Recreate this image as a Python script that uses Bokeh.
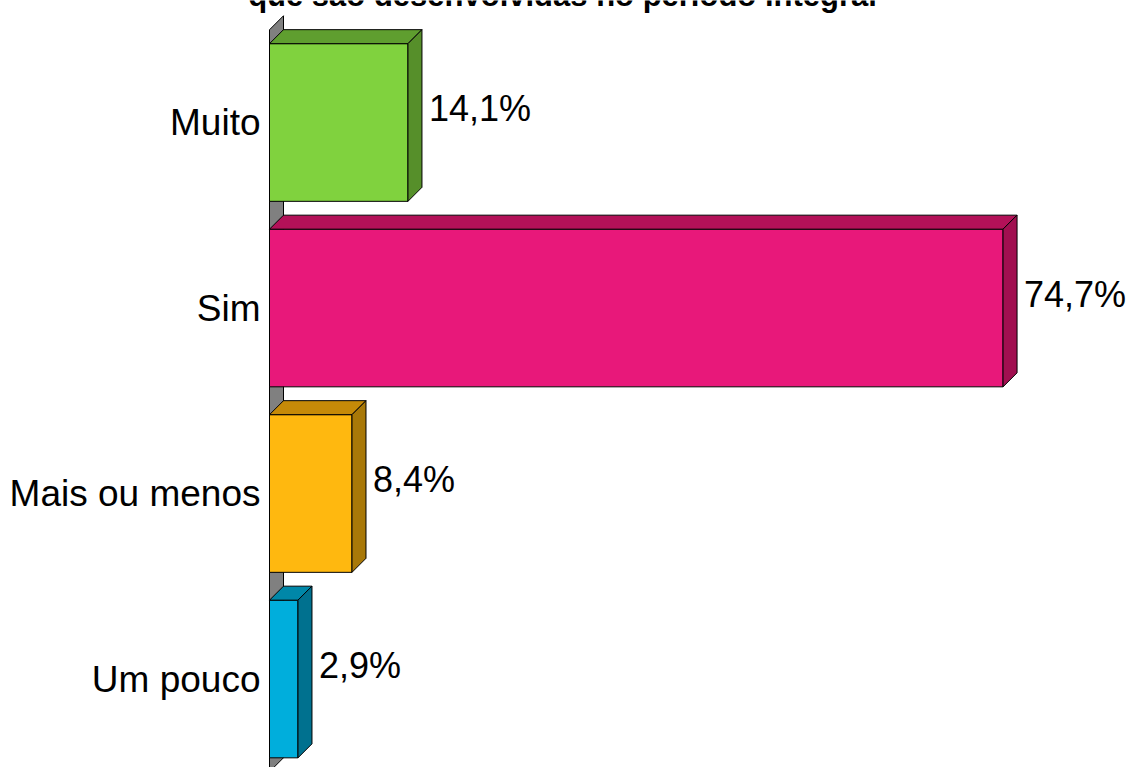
from bokeh.plotting import figure
from bokeh.models import ColumnDataSource, LabelSet, Label
from bokeh.core.properties import value
from bokeh.embed import file_html
from bokeh.resources import INLINE

# ---- data ----
categories = ["Muito", "Sim", "Mais ou menos", "Um pouco"]
values = [14.1, 74.7, 8.4, 2.9]
value_labels = ["14,1%", "74,7%", "8,4%", "2,9%"]
front_colors = ["#80D23E", "#E8187A", "#FFB80F", "#00AEDC"]
top_colors = ["#5F9E2F", "#B31158", "#C68A08", "#0087A8"]
side_colors = ["#568F2A", "#A10F50", "#A87808", "#00718F"]
title_text = "que são desenvolvidas no período integral"

# ---- layout (pixels) ----
W, H = 1131, 767
left_px = 269
px_per_pct = 9.82
px_per_cat = 185.5
first_center_px = 122
depth_px = 14
half = 0.425

n = len(categories)
ypos = [n - i for i in range(n)]
x_start = -left_px / px_per_pct
x_end = (W - left_px) / px_per_pct
y_top = n + first_center_px / px_per_cat
y_bottom = y_top - H / px_per_cat
dx = depth_px / px_per_pct
dy = depth_px / px_per_cat

p = figure(width=W, height=H, x_range=(x_start, x_end), y_range=(y_bottom, y_top),
           output_backend="svg", toolbar_location=None, x_axis_location=None,
           y_axis_location=None, min_border_left=0, min_border_right=0,
           min_border_top=0, min_border_bottom=0)
p.styles = {"position": "absolute", "left": "0px", "top": "0px"}
p.outline_line_color = None
p.xgrid.visible = False
p.ygrid.visible = False
p.background_fill_color = "white"
p.border_fill_color = "white"

# wall
p.patch([0, dx, dx, 0], [n + 0.5, n + 0.5 + dy, 0.5 + dy, 0.5],
        fill_color="#808080", line_color="black", line_width=1)

# bars
tops = [y + half for y in ypos]
bots = [y - half for y in ypos]
src = ColumnDataSource(dict(v=values, top=tops, bot=bots, fc=front_colors))
p.quad(left=0, right="v", top="top", bottom="bot", source=src,
       fill_color="fc", line_color="black", line_width=1)

top_xs = [[0, v, v + dx, dx] for v in values]
top_ys = [[t, t, t + dy, t + dy] for t in tops]
p.patches(top_xs, top_ys, fill_color=top_colors, line_color="black", line_width=1)

side_xs = [[v, v + dx, v + dx, v] for v in values]
side_ys = [[t, t + dy, b + dy, b] for t, b in zip(tops, bots)]
p.patches(side_xs, side_ys, fill_color=side_colors, line_color="black", line_width=1)

# value labels
lsrc = ColumnDataSource(dict(x=[v + dx for v in values], y=[y + dy for y in ypos],
                             t=value_labels))
p.add_layout(LabelSet(x="x", y="y", text="t", source=lsrc, x_offset=7,
                      text_baseline="middle", text_align="left",
                      text_font=value("Liberation Sans"), text_font_size=value("36px"),
                      text_color=value("black")))

# category labels
csrc = ColumnDataSource(dict(x=[0] * n, y=ypos, t=categories))
p.add_layout(LabelSet(x="x", y="y", text="t", source=csrc, x_offset=-9,
                      text_baseline="middle", text_align="right",
                      text_font=value("Liberation Sans"), text_font_size=value("37px"),
                      text_color=value("black")))

# title, cut off at the top edge as in the reference
p.add_layout(Label(x=(562 - left_px) / px_per_pct, y=y_top + 5 / px_per_cat,
                   text=title_text, text_align="center", text_baseline="alphabetic",
                   text_font="Liberation Sans", text_font_style="bold",
                   text_font_size="31px", text_color="black"))

open("out.html", "w").write(file_html(p, INLINE))
